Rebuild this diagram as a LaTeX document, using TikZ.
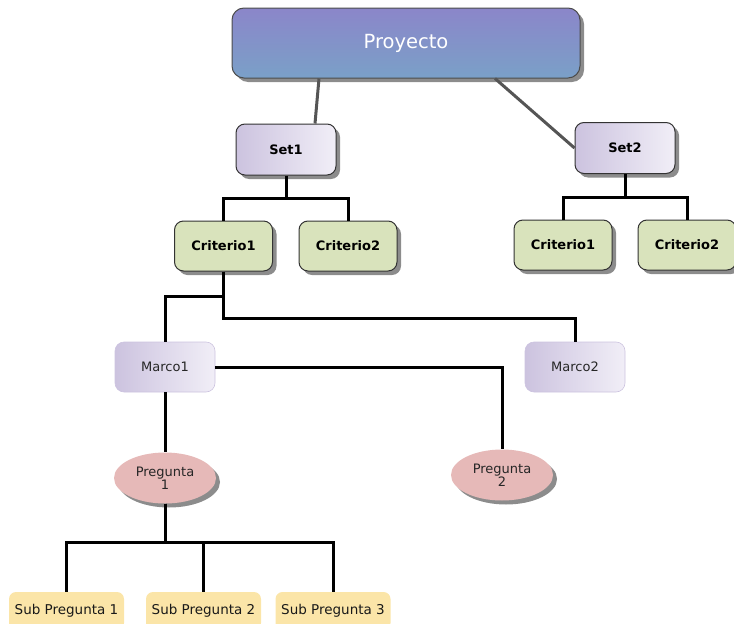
\documentclass[tikz,border=0pt]{standalone}
\usepackage{fontspec}
\setmainfont{DejaVu Sans}
\usetikzlibrary{shapes.geometric, shadows, positioning}
\definecolor{proytop}{HTML}{8B86C9}
\definecolor{proybot}{HTML}{7AA0C8}
\definecolor{setdark}{HTML}{CCC3DF}
\definecolor{setlight}{HTML}{F1EEF7}
\definecolor{critfill}{HTML}{D9E3BC}
\definecolor{pregfill}{HTML}{E6B9B8}
\definecolor{subfill}{HTML}{FBE5A8}
\definecolor{linkgray}{HTML}{555555}
\tikzstyle{box-shadow}=[
drop shadow={shadow xshift=4pt, shadow yshift=-4pt, opacity=0.6, fill=black!75},
]
\tikzstyle{proyecto-box}=[
rectangle,
rounded corners=12pt,
draw=black!70,
line width=1pt,
top color=proytop,
bottom color=proybot,
text=white,
font=\fontsize{19.5}{21}\selectfont,
minimum width=348pt,
minimum height=70pt,
box-shadow,
]
\tikzstyle{set-box}=[
rectangle,
rounded corners=9pt,
draw=black!80,
line width=1pt,
left color=setdark,
right color=setlight,
font=\fontsize{13}{15}\selectfont\bfseries,
minimum width=100pt,
minimum height=51pt,
box-shadow,
]
\tikzstyle{criterio-box}=[
rectangle,
rounded corners=9pt,
draw=black!80,
line width=1pt,
fill=critfill,
font=\fontsize{13}{15}\selectfont\bfseries,
minimum width=98pt,
minimum height=50pt,
box-shadow,
]
\tikzstyle{marco-box}=[
rectangle,
rounded corners=9pt,
draw=setdark,
line width=0.6pt,
left color=setdark,
right color=setlight,
text=black!85,
font=\fontsize{13}{15}\selectfont,
minimum width=100pt,
minimum height=50pt,
]
\tikzstyle{pregunta-node}=[
ellipse,
fill=pregfill,
text=black!85,
font=\fontsize{13}{13}\selectfont,
align=center,
inner sep=0pt,
minimum width=102pt,
minimum height=51pt,
box-shadow,
]
\tikzstyle{sub-box}=[
rectangle,
rounded corners=7pt,
fill=subfill,
text=black!90,
font=\fontsize{13.5}{15}\selectfont,
minimum width=115pt,
minimum height=38pt,
]
\tikzstyle{tree-link}=[
line width=3pt,
black,
]
\tikzstyle{top-link}=[
line width=3pt,
linkgray,
]

\begin{document}
\begin{tikzpicture}[x=1pt,y=-1pt]
  \useasboundingbox (0,0) rectangle (734,624);

  % top level
  \node[proyecto-box] (proy) at (406,43) {\raisebox{-2pt}{Proyecto}};

  % sets
  \node[set-box] (set1) at (286,149.5) {Set1};
  \node[set-box] (set2) at (625,148) {Set2};
  \draw[top-link] ([xshift=-87pt]proy.south) -- ([xshift=29pt]set1.north);
  \draw[top-link] ([xshift=89pt]proy.south) -- (set2.west);

  % criterios
  \node[criterio-box] (crit11) at (223.5,246) {Criterio1};
  \node[criterio-box] (crit12) at (348,246) {Criterio2};
  \node[criterio-box] (crit21) at (563,245) {Criterio1};
  \node[criterio-box] (crit22) at (687,245) {Criterio2};
  \draw[tree-link] (set1.south) -- ++(0,23) -| (crit11.north);
  \draw[tree-link] (set1.south) -- ++(0,23) -| (crit12.north);
  \draw[tree-link] (set2.south) -- ++(0,23) -| (crit21.north);
  \draw[tree-link] (set2.south) -- ++(0,23) -| (crit22.north);

  % marcos
  \node[marco-box] (marco1) at (165,367) {Marco1};
  \node[marco-box] (marco2) at (575,367) {Marco2};
  \draw[tree-link] (crit11.south) -- ++(0,25) -| (marco1.north);
  \draw[tree-link] (crit11.south) -- ++(0,47) -| (marco2.north);

  % preguntas
  \node[pregunta-node] (preg1) at (165,478) {Pregunta\\1};
  \node[pregunta-node] (preg2) at (502,475) {Pregunta\\2};
  \draw[tree-link] (marco1.south) -- (preg1.north);
  \draw[tree-link] (marco1.east) -| (preg2.north);

  % sub preguntas
  \foreach \i/\x in {1/66.5, 2/203.5, 3/333}
  {
    \node[sub-box] (sub\i) at (\x,611) {Sub Pregunta \i};
    \draw[tree-link] (preg1.south) -- ++(0,39) -| (sub\i.north);
  }
\end{tikzpicture}
\end{document}
